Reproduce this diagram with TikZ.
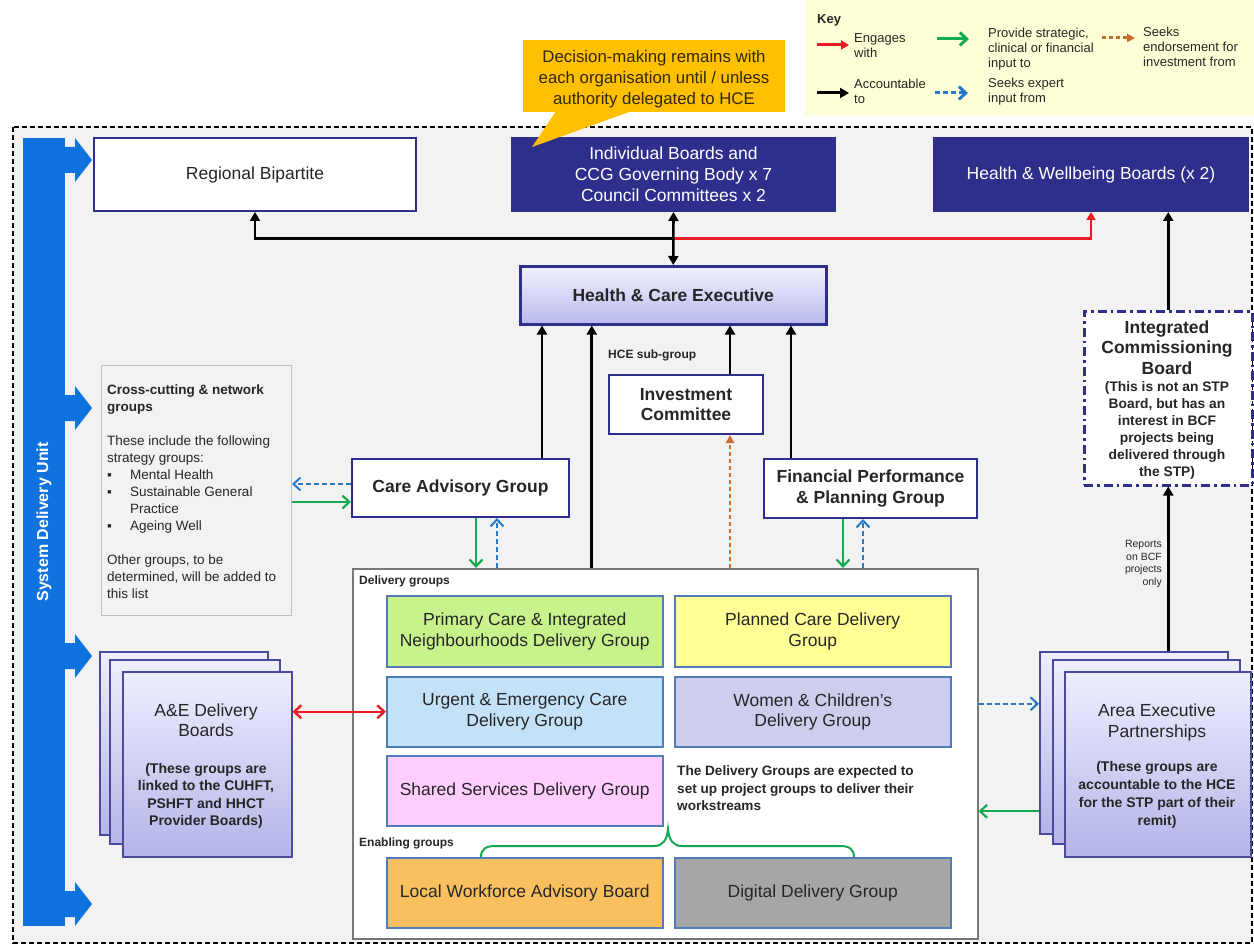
\documentclass[tikz,border=0pt]{standalone}
\usepackage{fontspec}
\setmainfont{Liberation Sans}
\usetikzlibrary{arrows.meta,calc}
\newcommand\fsz[2]{\fontsize{#1}{#2}\selectfont}
\newcommand\bul{\makebox[23pt][l]{▪}}
\definecolor{navy}{RGB}{46,46,140}
\definecolor{txt}{RGB}{38,38,38}
\definecolor{keyyel}{RGB}{255,255,215}
\definecolor{bg}{RGB}{242,242,242}
\definecolor{sdu}{RGB}{16,114,222}
\definecolor{callout}{RGB}{255,192,0}
\definecolor{callt}{RGB}{50,40,10}
\definecolor{hcetop}{RGB}{242,242,255}
\definecolor{hcebot}{RGB}{185,185,238}
\definecolor{stkb}{RGB}{75,75,155}
\definecolor{stktop}{RGB}{238,238,255}
\definecolor{stkbot}{RGB}{180,180,232}
\definecolor{ccb}{RGB}{190,190,190}
\definecolor{dgo}{RGB}{120,120,120}
\definecolor{dgb}{RGB}{80,125,185}
\definecolor{cprim}{RGB}{200,242,140}
\definecolor{cplan}{RGB}{255,255,150}
\definecolor{curg}{RGB}{195,226,248}
\definecolor{cwom}{RGB}{205,205,238}
\definecolor{cshr}{RGB}{255,205,255}
\definecolor{clwf}{RGB}{250,192,95}
\definecolor{cdig}{RGB}{166,166,166}
\definecolor{agreen}{RGB}{20,170,80}
\definecolor{ablue}{RGB}{40,120,200}
\definecolor{abrown}{RGB}{200,110,50}
\definecolor{ared}{RGB}{235,25,35}
\begin{document}
\begin{tikzpicture}[x=1pt,y=-1pt,
  txtn/.style={inner sep=0pt, text=txt, align=center},
  wbox/.style={draw=navy, line width=2pt, fill=white, inner sep=0pt, anchor=north west, align=center, text=txt, font=\fsz{17.5}{21}},
  nbox/.style={wbox, fill=navy, text=white},
  bbox/.style={wbox, font=\fsz{17.5}{20.7}\bfseries},
  dbox/.style={draw=dgb, line width=1.5pt, inner sep=0pt, anchor=north west, align=center, text=txt, font=\fsz{17.5}{20.5}, minimum width=276pt, minimum height=70pt},
  stk/.style={draw=stkb, line width=1.5pt, top color=stktop, bottom color=stkbot, inner sep=0pt, anchor=north west},
  blk/.style={draw=black, line width=2.6pt, -{Triangle[length=9pt,width=10pt]}},
  redl/.style={draw=ared, line width=2.4pt, -{Triangle[length=8pt,width=9pt]}},
  redd/.style={draw=ared, line width=2.4pt, {Straight Barb[length=7pt,width=13pt]}-{Straight Barb[length=7pt,width=13pt]}},
  grn/.style={draw=agreen, line width=2.2pt, -{Straight Barb[length=7pt,width=13pt]}},
  blu/.style={draw=ablue, line width=2pt, dash pattern=on 5pt off 3pt, -{Straight Barb[length=7pt,width=13pt]}},
  brn/.style={draw=abrown, line width=2pt, dash pattern=on 4pt off 3pt, -{Triangle[length=8pt,width=8pt]}},
  keyt/.style={inner sep=0pt, text=txt, align=left, anchor=west, font=\fsz{13}{15}}
]
\useasboundingbox (0,0) rectangle (1254,947);
\fill[white] (0,0) rectangle (1254,947);
% key
\fill[keyyel] (805,0) rectangle (1254,116);
\node[keyt, font=\fsz{13}{15}\bfseries] (keyh) at (817,20) {Key};
\coordinate (k1a) at (817,45); \coordinate (k1b) at (849,45);
\draw[redl, line width=3pt] (k1a) -- (k1b);
\node[keyt] (k1t) at (854,45.5) {Engages\\with};
\coordinate (k2a) at (937,39); \coordinate (k2b) at (969,39);
\draw[grn, line width=3pt] (k2a) -- (k2b);
\node[keyt] (k2t) at (988,49) {Provide strategic,\\clinical or financial\\input to};
\coordinate (k3a) at (1102,38); \coordinate (k3b) at (1135,38);
\draw[brn, line width=3pt] (k3a) -- (k3b);
\node[keyt] (k3t) at (1143,47) {Seeks\\endorsement for\\investment from};
\coordinate (k4a) at (817,93); \coordinate (k4b) at (849,93);
\draw[blk, line width=3pt] (k4a) -- (k4b);
\node[keyt] (k4t) at (854,91) {Accountable\\to};
\coordinate (k5a) at (935,93); \coordinate (k5b) at (968,93);
\draw[blu, line width=3pt] (k5a) -- (k5b);
\node[keyt] (k5t) at (988,92) {Seeks expert\\input from};
% outer frame
\draw[fill=bg, dash pattern=on 5pt off 3pt, line width=1.6pt] (13,127) rectangle (1252,943);
% system delivery unit bar
\fill[sdu] (23,138) rectangle (65,926);
\foreach \cy in {160,408,656,904}
  \fill[sdu] (64,\cy-13) -- (75,\cy-13) -- (75,\cy-22) -- (92,\cy) -- (75,\cy+22) -- (75,\cy+13) -- (64,\cy+13) -- cycle;
\node[rotate=90, text=white, inner sep=0pt, font=\fsz{16}{19}\bfseries] (sdut) at (44,522) {System Delivery Unit};
% top boards
\node[wbox, minimum width=322pt, minimum height=73pt] (rb) at (93,137) {Regional Bipartite};
\node[nbox, minimum width=323pt, minimum height=73pt] (ib) at (511,137) {Individual Boards and\\CCG Governing Body x 7\\Council Committees x 2};
\node[nbox, minimum width=314pt, minimum height=73pt] (hw) at (933,137) {Health \& Wellbeing Boards (x 2)};
% HCE
\node[wbox, line width=2.5pt, top color=hcetop, bottom color=hcebot, minimum width=306pt, minimum height=58pt, font=\fsz{17.5}{21}\bfseries] (hce) at (519,265) {Health \& Care Executive};
% middle groups
\node[txtn, anchor=west, font=\fsz{12}{14}\bfseries] (hsg) at (608,355) {HCE sub-group};
\node[bbox, minimum width=154pt, minimum height=59pt] (ic) at (608,374) {Investment\\Committee};
\node[bbox, minimum width=217pt, minimum height=58pt] (cag) at (351,458) {Care Advisory Group};
\node[bbox, minimum width=213pt, minimum height=59pt] (fp) at (763,458) {Financial Performance\\\& Planning Group};
% ICB
\node[wbox, line width=2.5pt, dash pattern=on 9pt off 4pt on 2.5pt off 4pt, minimum width=168pt, minimum height=174pt] (icb) at (1083,310) {};
\node[txtn, font=\fsz{17.5}{20.5}\bfseries] (icbt) at (1167,347.5) {Integrated\\Commissioning\\Board};
\node[txtn, font=\fsz{13.8}{17}\bfseries] (icbs) at (1167,430.5) {(This is not an STP\\Board, but has an\\interest in BCF\\projects being\\delivered through\\the STP)};
% cross-cutting
\node[draw=ccb, line width=1pt, fill=bg, inner sep=0pt, anchor=north west, minimum width=190pt, minimum height=250pt] (cc) at (101,365) {};
\node[txtn, anchor=west, align=left, font=\fsz{13.5}{17}] (cct) at (107,492) {\textbf{Cross-cutting \& network}\\\textbf{groups}\\[17pt]These include the following\\strategy groups:\\\bul Mental Health\\\bul Sustainable General\\\hspace*{23pt}Practice\\\bul Ageing Well\\[17pt]Other groups, to be\\determined, will be added to\\this list};
% delivery groups
\node[draw=dgo, line width=1.5pt, fill=white, inner sep=0pt, anchor=north west, minimum width=625pt, minimum height=370pt] (dg) at (352,568) {};
\node[txtn, anchor=west, font=\fsz{12}{14}\bfseries] (dgl) at (359,581) {Delivery groups};
\node[dbox, fill=cprim, minimum height=71pt] (pc) at (386,595) {Primary Care \& Integrated\\Neighbourhoods Delivery Group};
\node[dbox, fill=cplan, minimum height=71pt] (plc) at (674,595) {Planned Care Delivery\\Group};
\node[dbox, fill=curg] (uec) at (386,676) {Urgent \& Emergency Care\\Delivery Group};
\node[dbox, fill=cwom] (wc) at (674,676) {Women \& Children's\\Delivery Group};
\node[dbox, fill=cshr] (ssd) at (386,755) {Shared Services Delivery Group};
\node[txtn, anchor=west, align=left, font=\fsz{13.6}{17.5}\bfseries] (dnote) at (677,788.5) {The Delivery Groups are expected to\\set up project groups to deliver their\\workstreams};
\node[txtn, anchor=west, font=\fsz{12}{14}\bfseries] (enl) at (359,843) {Enabling groups};
\draw[agreen, line width=2pt] (481,857) .. controls (481,849) and (486,846) .. (495,846) -- (654,846) .. controls (663,846) and (667,840) .. (668,829) .. controls (669,840) and (673,846) .. (682,846) -- (840,846) .. controls (849,846) and (854,849) .. (854,857);
\node[dbox, fill=clwf] (lwf) at (386,857) {Local Workforce Advisory Board};
\node[dbox, fill=cdig] (ddg) at (674,857) {Digital Delivery Group};
% A&E stack
\node[stk, minimum width=168pt, minimum height=183pt] (ae3) at (99,651) {};
\node[stk, minimum width=170pt, minimum height=184pt] (ae2) at (109,659) {};
\node[stk, minimum width=169pt, minimum height=185pt] (ae1) at (122,671) {};
\node[txtn, font=\fsz{17.5}{20}] (ae1t) at (206,720) {A\&E Delivery\\Boards};
\node[txtn, font=\fsz{14}{17.4}\bfseries] (ae1s) at (206,796) {(These groups are\\linked to the CUHFT,\\PSHFT and HHCT\\Provider Boards)};
% Area exec stack
\node[stk, minimum width=188pt, minimum height=182pt] (ap3) at (1039,651) {};
\node[stk, minimum width=187pt, minimum height=184pt] (ap2) at (1052,659) {};
\node[stk, minimum width=186pt, minimum height=185pt] (ap1) at (1064,671) {};
\node[txtn, font=\fsz{17.5}{21}] (ap1t) at (1157,722.5) {Area Executive\\Partnerships};
\node[txtn, font=\fsz{14}{18}\bfseries] (ap1s) at (1157,795) {(These groups are\\accountable to the HCE\\for the STP part of their\\remit)};
% connectors top
\coordinate (j) at ($(ib.south)!0.5!(hce.north)$);
\draw[redl] (j) -| (hw.south);
\draw[blk] (j) -| (rb.south);
\draw[blk, {Triangle[length=9pt,width=10pt]}-{Triangle[length=9pt,width=10pt]}] (ib.south) -- (hce.north);
\draw[blk] (icb.north) -- (icb.north |- hw.south);
\draw[blk] (icb.south |- ap3.north) -- (icb.south);
\node[txtn, anchor=east, align=right, font=\fsz{10.5}{12.6}] (rep) at (1162,564) {Reports\\on BCF\\projects\\only};
% into HCE
\draw[blk] ([xshift=81.5pt]cag.north) -- ([xshift=81.5pt]cag.north |- hce.south);
\draw[blk] ([xshift=-73.5pt]dg.north) -- ([xshift=-73.5pt]dg.north |- hce.south);
\draw[blk] ([xshift=44pt]ic.north) -- ([xshift=44pt]ic.north |- hce.south);
\draw[blk] ([xshift=-79.5pt]fp.north) -- ([xshift=-79.5pt]fp.north |- hce.south);
\draw[brn] ([xshift=44pt]ic.south |- dg.north) -- ([xshift=44pt]ic.south);
% CAG / FPPG to delivery
\draw[grn] ([xshift=15.5pt]cag.south) -- ([xshift=15.5pt]cag.south |- dg.north);
\draw[blu] ([xshift=36.5pt]cag.south |- dg.north) -- ([xshift=36.5pt]cag.south);
\draw[grn] ([xshift=-27.5pt]fp.south) -- ([xshift=-27.5pt]fp.south |- dg.north);
\draw[blu] ([xshift=-7.5pt]fp.south |- dg.north) -- ([xshift=-7.5pt]fp.south);
% cross-cutting <-> CAG
\draw[blu] ([yshift=4pt]cag.west) -- ([yshift=4pt]cag.west -| cc.east);
\draw[grn] ([yshift=-14pt]cag.west -| cc.east) -- ([yshift=-14pt]cag.west);
% A&E <-> urgent
\draw[redd] (uec.west -| ae1.east) -- (uec.west);
% delivery <-> area exec
\draw[blu] ([yshift=50pt]dg.east) -- ([yshift=50pt]dg.east -| ap3.west);
\draw[grn] ([yshift=-57.5pt]dg.east -| ap3.west) -- ([yshift=-57.5pt]dg.east);
% callout
\fill[callout] (523,40) rectangle (785,112);
\fill[callout] (556,111) -- (532,147) -- (632,111) -- cycle;
\node[txtn, text=callt, font=\fsz{16.8}{21}] (callt) at (654,79) {Decision-making remains with\\each organisation until / unless\\authority delegated to HCE};
\end{tikzpicture}
\end{document}
